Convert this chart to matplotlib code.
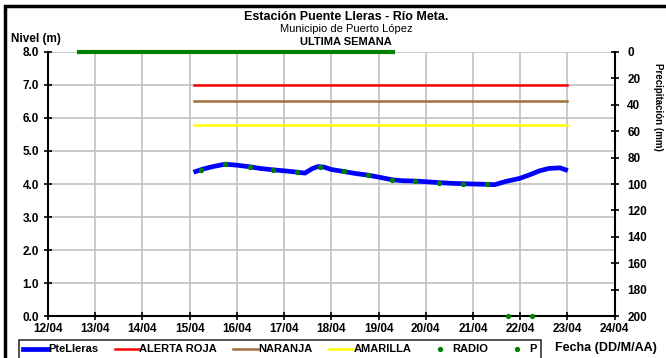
import matplotlib
matplotlib.use('Agg')
import matplotlib.pyplot as plt
from matplotlib.patches import Rectangle

plt.rcParams['font.family'] = ['Liberation Sans', 'DejaVu Sans']

# fechas como dia del mes (abril)
day_ticks = [12, 13, 14, 15, 16, 17, 18, 19, 20, 21, 22, 23, 24]
day_labels = ['12/04', '13/04', '14/04', '15/04', '16/04', '17/04', '18/04',
              '19/04', '20/04', '21/04', '22/04', '23/04', '24/04']

# nivel Puente Lleras (m)
level_days = [15.13, 15.3, 15.5, 15.75, 16.0, 16.28, 16.5, 16.76, 17.0, 17.27,
              17.44, 17.6, 17.72, 17.85, 18.0, 18.26, 18.5, 18.77, 19.0, 19.28,
              19.5, 19.77, 20.0, 20.3, 20.55, 20.78, 21.0, 21.29, 21.46, 21.7,
              21.99, 22.2, 22.41, 22.6, 22.84, 22.96]
level = [4.38, 4.46, 4.53, 4.60, 4.57, 4.52, 4.47, 4.43, 4.40, 4.36,
         4.33, 4.47, 4.53, 4.51, 4.44, 4.38, 4.32, 4.27, 4.21, 4.13,
         4.10, 4.09, 4.07, 4.04, 4.02, 4.01, 4.00, 3.99, 3.98, 4.08,
         4.17, 4.28, 4.40, 4.47, 4.49, 4.43]

# puntos RADIO sobre la curva
radio_days = [15.25, 15.75, 16.28, 16.76, 17.27, 17.76, 18.26, 18.77,
              19.28, 19.77, 20.28, 20.78, 21.29]
radio = [4.43, 4.60, 4.52, 4.43, 4.36, 4.52, 4.38, 4.27, 4.13, 4.09, 4.04, 4.01, 3.99]

# umbrales de alerta
alert_days = [15.1, 23.0]
alerta_roja = [7.0, 7.0]
naranja = [6.5, 6.5]
amarilla = [5.8, 5.8]

# precipitacion P (mm, eje derecho invertido)
p_line_days = [12.65, 19.3]
p_line = [0, 0]
p_days = [21.75, 22.25]
p_vals = [200, 200]

fig = plt.figure(figsize=(6.66, 3.58), dpi=100)
fig.patch.set_facecolor('white')
ax = fig.add_axes([0.072, 0.117, 0.851, 0.738])

ax.plot(alert_days, alerta_roja, color='#FF0000', lw=1.8, label='ALERTA ROJA', zorder=3)
ax.plot(alert_days, naranja, color='#A0703C', lw=1.8, label='NARANJA', zorder=3)
ax.plot(alert_days, amarilla, color='#FFFF00', lw=1.8, label='AMARILLA', zorder=3)
l_lvl, = ax.plot(level_days, level, color='#0000FF', lw=3.4, label='PteLleras', zorder=4)
l_rad, = ax.plot(radio_days, radio, 'o', color='#008000', ms=2.8, label='RADIO', zorder=5)

ax.set_xlim(12, 24)
ax.set_ylim(0, 8)
ax.set_xticks(day_ticks)
ax.set_xticklabels(day_labels)
ax.set_yticks([0, 1, 2, 3, 4, 5, 6, 7, 8])
ax.set_yticklabels([f'{v:.1f}' for v in range(9)])
ax.grid(True, color='#C0C0C0', lw=1.2)
ax.set_axisbelow(True)
for s in ['top', 'right']:
    ax.spines[s].set_visible(False)
ax.spines['left'].set_linewidth(1.5)
ax.spines['bottom'].set_linewidth(1.5)
ax.tick_params(axis='both', direction='inout', length=6, width=1.2, labelsize=8.5)
ax.tick_params(axis='x', pad=2)
for t in ax.get_xticklabels() + ax.get_yticklabels():
    t.set_fontweight('bold')

ax2 = ax.twinx()
ax2.plot(p_line_days, p_line, color='#008000', lw=3, zorder=5, clip_on=False)
l_p, = ax2.plot(p_days, p_vals, 'o', color='#008000', ms=2.8, label='P', clip_on=False)
ax2.set_ylim(200, 0)
ax2.set_yticks(range(0, 201, 20))
ax2.spines['right'].set_linewidth(1.5)
for s in ['top', 'left', 'bottom']:
    ax2.spines[s].set_visible(False)
ax2.tick_params(axis='y', direction='inout', length=6, width=1.2, labelsize=8.5, pad=6)
for t in ax2.get_yticklabels():
    t.set_fontweight('bold')
fig.text(0.988, 0.70, 'Precipitación (mm)', rotation=270, fontsize=7, fontweight='bold',
         ha='center', va='center')

fig.text(0.52, 0.944, 'Estación Puente Lleras - Río Meta.', ha='center', fontsize=9, fontweight='bold')
fig.text(0.52, 0.910, 'Municipio de Puerto López', ha='center', fontsize=8)
fig.text(0.52, 0.875, 'ULTIMA SEMANA', ha='center', fontsize=8, fontweight='bold')
fig.text(0.016, 0.882, 'Nivel (m)', fontsize=8.5, fontweight='bold')
fig.text(0.833, 0.020, 'Fecha (DD/M/AA)', fontsize=9, fontweight='bold')

handles = [l_lvl] + ax.get_lines()[:3] + [l_rad, l_p]
leg = fig.legend(handles, [h.get_label() for h in handles], ncol=6,
                 loc='lower left', bbox_to_anchor=(0.02, -0.018), frameon=True,
                 fancybox=False, edgecolor='black', fontsize=8, handlelength=2.2,
                 handletextpad=0.0, columnspacing=1.5, borderpad=0.4, markerscale=1)
leg.get_frame().set_linewidth(1.2)
for t in leg.get_texts():
    t.set_fontweight('bold')

fig.add_artist(Rectangle((0.008, -0.05), 1.2, 1.033, transform=fig.transFigure,
                         fill=False, edgecolor='black', lw=2.5))

fig.savefig('out.png', dpi=100)
